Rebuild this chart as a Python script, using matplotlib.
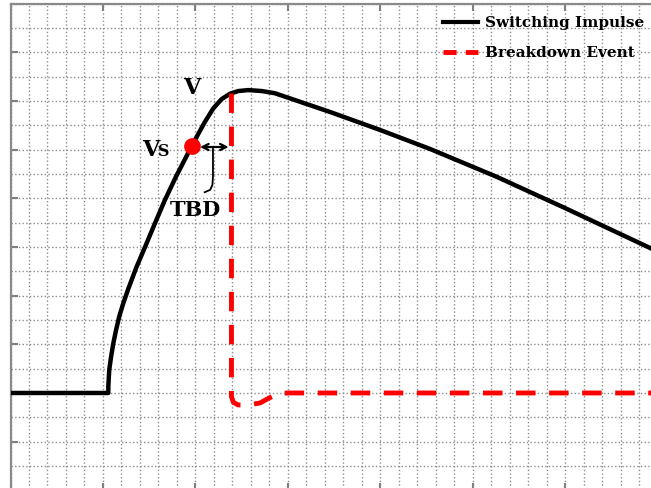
import matplotlib.pyplot as plt
from matplotlib.lines import Line2D
from matplotlib.ticker import MultipleLocator

# switching impulse waveform (grid units)
impulse_t = [0.0, 5.29, 5.29, 5.34, 5.44, 5.56, 5.71, 5.88, 6.10, 6.37, 6.80,
             7.31, 7.81, 8.35, 8.95, 9.80, 10.30, 10.52, 10.97, 11.42, 11.87,
             12.32, 12.86, 13.59, 14.30, 17.28, 19.99, 22.69, 26.31, 29.88,
             34.59, 35.5]
impulse_v = [0.0, 0.0, 0.26, 0.95, 1.49, 2.04, 2.59, 3.14, 3.69, 4.28, 5.15,
             6.06, 6.97, 7.93, 8.89, 10.15, 10.85, 11.15, 11.70, 12.08, 12.30,
             12.41, 12.45, 12.41, 12.32, 11.55, 10.81, 10.03, 8.88, 7.64,
             5.96, 5.6]

# voltage collapse at breakdown
breakdown_t = [11.95, 11.95, 12.05, 12.3, 12.8, 13.5, 14.0, 14.5, 15.0, 36.0]
breakdown_v = [12.31, -0.15, -0.38, -0.49, -0.5, -0.41, -0.2, -0.02, 0.0, 0.0]

vs_point = (9.80, 10.15)

fig = plt.figure(figsize=(6.51, 4.88), dpi=100)
ax = fig.add_axes([0.01613, -0.0047, 0.9941, 0.9971])

ax.plot(impulse_t, impulse_v, color="black", lw=3.2, solid_joinstyle="round", zorder=3)
ax.plot(breakdown_t, breakdown_v, color="red", lw=3.5, dashes=(4, 2.8), zorder=4)
ax.plot(*vs_point, "o", color="red", ms=11, zorder=5)

# TBD marker
ax.annotate("", xy=(10.25, 10.11), xytext=(11.8, 10.11),
            arrowprops=dict(arrowstyle="<->", color="black", lw=1.6,
                            mutation_scale=11, shrinkA=0, shrinkB=0), zorder=6)
ax.plot([10.95, 10.95, 10.92, 10.8, 10.5], [10.05, 8.9, 8.55, 8.35, 8.25],
        color="black", lw=1.3, zorder=6)

bold = dict(family="DejaVu Serif", weight="bold", color="black")
ax.text(9.82, 12.54, "V", fontsize=16, ha="center", va="center", **bold)
ax.text(7.1, 9.73, "V", fontsize=16, ha="left", va="baseline", **bold)
ax.text(7.98, 9.73, "S", fontsize=11.5, ha="left", va="baseline", **bold)
ax.text(9.98, 7.52, "TBD", fontsize=15, ha="center", va="center", **bold)

ax.set_xlim(0, 35)
ax.set_ylim(-4, 16)
ax.xaxis.set_major_locator(MultipleLocator(5))
ax.xaxis.set_minor_locator(MultipleLocator(1))
ax.yaxis.set_major_locator(MultipleLocator(2))
ax.yaxis.set_minor_locator(MultipleLocator(1))
ax.grid(which="both", color="#8c8c8c", ls=":", lw=1.0)
ax.tick_params(which="major", direction="in", length=5, width=1.5, color="#808080",
               top=True, right=True, labelleft=False, labelbottom=False)
ax.tick_params(which="minor", length=0)
for s in ax.spines.values():
    s.set_color("#8a8a8a")
    s.set_linewidth(1.6)

handles = [Line2D([], [], color="black", lw=3),
           Line2D([], [], color="red", lw=3.5, dashes=(2.7, 1.9))]
ax.legend(handles, ["Switching Impulse", "Breakdown Event"],
          loc="upper right", bbox_to_anchor=(644 / 651, 1 - 16 / 488),
          bbox_transform=fig.transFigure, frameon=False,
          prop=dict(family="DejaVu Serif", weight="bold", size=11),
          handlelength=2.3, handletextpad=0.46, labelspacing=1.05,
          borderaxespad=0, borderpad=0)

fig.savefig("out.png", dpi=100)
